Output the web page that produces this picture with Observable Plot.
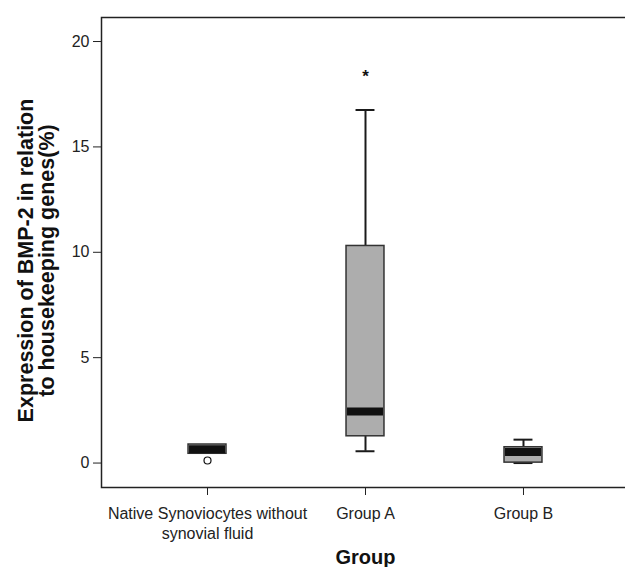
<!DOCTYPE html>
<html>
<head>
<meta charset="utf-8">
<script src="https://cdn.jsdelivr.net/npm/d3@7"></script>
<script src="https://cdn.jsdelivr.net/npm/@observablehq/plot@0.6"></script>
<style>
  html, body { margin: 0; padding: 0; background: #fff; overflow: hidden; }
  #chart { width: 625px; height: 567px; overflow: hidden; }
  #chart svg { max-width: none !important; width: 630px !important; height: 567px !important; }
</style>
</head>
<body>
<div id="chart"></div>
<script>
// ---- data ----
const groups = ["Native Synoviocytes without synovial fluid", "Group A", "Group B"];
const tickLabels = ["Native Synoviocytes without\nsynovial fluid", "Group A", "Group B"];
const q1 = [0.44, 1.27, 0.02];
const medians = [0.66, 2.45, 0.53];
const q3 = [0.88, 10.3, 0.75];
const whiskerLow = [0.44, 0.56, 0.0];
const whiskerHigh = [0.88, 16.75, 1.11];
const outlierGroups = ["Native Synoviocytes without synovial fluid"];
const outlierValues = [0.12];
const extremeGroups = ["Group A"];
const extremeValues = [18.5];
const yTicks = [0, 5, 10, 15, 20];
const yLabel = "Expression of BMP-2 in relation\nto housekeeping genes(%)";
const xLabel = "Group";

const boxes = groups.map((g, i) => ({
  group: g, q1: q1[i], median: medians[i], q3: q3[i],
  lo: whiskerLow[i], hi: whiskerHigh[i]
}));
const whiskers = boxes.filter(d => d.hi > d.q3 || d.lo < d.q1);
const outliers = outlierGroups.map((g, i) => ({group: g, value: outlierValues[i]}));
const extremes = extremeGroups.map((g, i) => ({group: g, value: extremeValues[i]}));
const labelOf = new Map(groups.map((g, i) => [g, tickLabels[i]]));

const boxInset = 33;
const capInset = 42.5;

const chart = Plot.plot({
  width: 630,
  height: 567,
  marginLeft: 101,
  marginRight: 1,
  marginTop: 17,
  marginBottom: 80,
  style: {fontFamily: "'Liberation Sans', Arial, sans-serif", fontSize: "16px", color: "#222", background: "#fff"},
  x: {domain: groups, range: [101, 629], paddingInner: 0.342, paddingOuter: 0.342, align: 0.5, round: false},
  y: {domain: [-1.16, 21.14]},
  marks: [
    Plot.frame({stroke: "#222", strokeWidth: 1.5}),
    Plot.axisY({ticks: yTicks, tickSize: 8, tickPadding: 4, label: null, fontSize: 16, stroke: "#222"}),
    Plot.axisX({tickSize: 8, tickPadding: 9, label: null, fontSize: 16, lineHeight: 1.25,
      tickFormat: d => labelOf.get(d), stroke: "#222"}),
    // whiskers
    Plot.ruleX(whiskers, {x: "group", y1: "q3", y2: "hi", stroke: "#1a1a1a", strokeWidth: 2}),
    Plot.ruleX(whiskers, {x: "group", y1: "lo", y2: "q1", stroke: "#1a1a1a", strokeWidth: 2}),
    Plot.tickY(whiskers, {x: "group", y: "hi", stroke: "#1a1a1a", strokeWidth: 2, insetLeft: capInset, insetRight: capInset}),
    Plot.tickY(whiskers, {x: "group", y: "lo", stroke: "#1a1a1a", strokeWidth: 2, insetLeft: capInset, insetRight: capInset}),
    // boxes
    Plot.barY(boxes, {x: "group", y1: "q1", y2: "q3", fill: "#adadad", stroke: "#333", strokeWidth: 1.5,
      insetLeft: boxInset, insetRight: boxInset}),
    // medians
    Plot.tickY(boxes, {x: "group", y: "median", stroke: "#111", strokeWidth: 8,
      insetLeft: boxInset + 1, insetRight: boxInset + 1}),
    // outliers
    Plot.dot(outliers, {x: "group", y: "value", r: 3.5, stroke: "#111", fill: "#fff", strokeWidth: 1.2}),
    Plot.text(extremes, {x: "group", y: "value", text: () => "*", fontSize: 17, fontWeight: "bold", dy: 3, fill: "#111"}),
    // axis titles
    Plot.text([yLabel], {frameAnchor: "left", text: d => d, rotate: -90, dx: -65, dy: 8,
      textAnchor: "middle", lineAnchor: "middle",
      fontSize: 21.5, fontWeight: "bold", lineHeight: 1.02, fill: "#111"}),
    Plot.text([xLabel], {frameAnchor: "bottom", text: d => d, dy: 70, lineAnchor: "middle",
      fontSize: 20, fontWeight: "bold", fill: "#111"})
  ]
});
document.getElementById("chart").append(chart);
</script>
</body>
</html>
